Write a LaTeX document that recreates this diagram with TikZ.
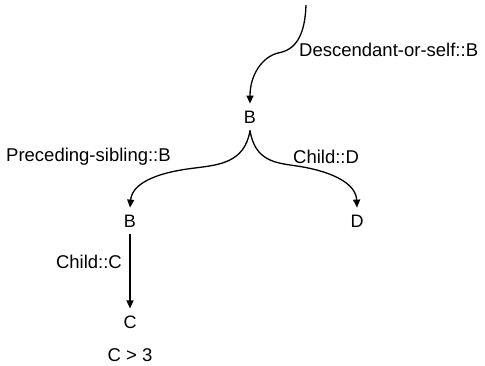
\documentclass[tikz,border=0pt]{standalone}
\usepackage{fontspec}
\setmainfont{Liberation Sans}
\usepackage{tikz}
\usetikzlibrary{arrows.meta,positioning}

\tikzset{
  axisnode/.style={inner sep=7pt, font=\fontsize{18}{21}\selectfont},
  axislabel/.style={inner sep=0pt, font=\fontsize{18.5}{21}\selectfont},
  axisarrow/.style={line width=1.3pt, -{Triangle[length=8pt,width=7pt]}}
}

\begin{document}
\begin{tikzpicture}[x=1pt,y=-1pt]
\useasboundingbox (0,0) rectangle (485,366);
% nodes
\coordinate (start) at (306,5);
\node[axisnode] (b1) at (250,117) {B};
\node[axisnode] (b2) at (130,221) {B};
\node[axisnode] (d) at (357,221) {D};
\node[axisnode] (c) at (130,322) {C};
\node[axislabel] (cond) at (130,355) {C > 3};
% labels
\node[axislabel, anchor=west] (ldesc) at (299,50) {Descendant-or-self::B};
\node[axislabel, anchor=west] (lprec) at (6,157) {Preceding-sibling::B};
\node[axislabel, anchor=west] (lchd) at (293,157) {Child::D};
\node[axislabel, anchor=east] (lchc) at (122,262) {Child::C};
% connectors
\draw[axisarrow] (start) .. controls (305,35) and (296,50) .. (278,53) .. controls (262,57) and (250,75) .. (b1.north);
\draw[axisarrow] (b1.south) .. controls (245,163) and (218,165) .. (195,168) .. controls (152,173) and (132,185) .. (b2.north);
\draw[axisarrow] (b1.south) .. controls (255,162) and (277,163) .. (297,166) .. controls (336,172) and (356,185) .. (d.north);
\draw[axisarrow] (b2.south) -- (c.north);
\end{tikzpicture}
\end{document}
